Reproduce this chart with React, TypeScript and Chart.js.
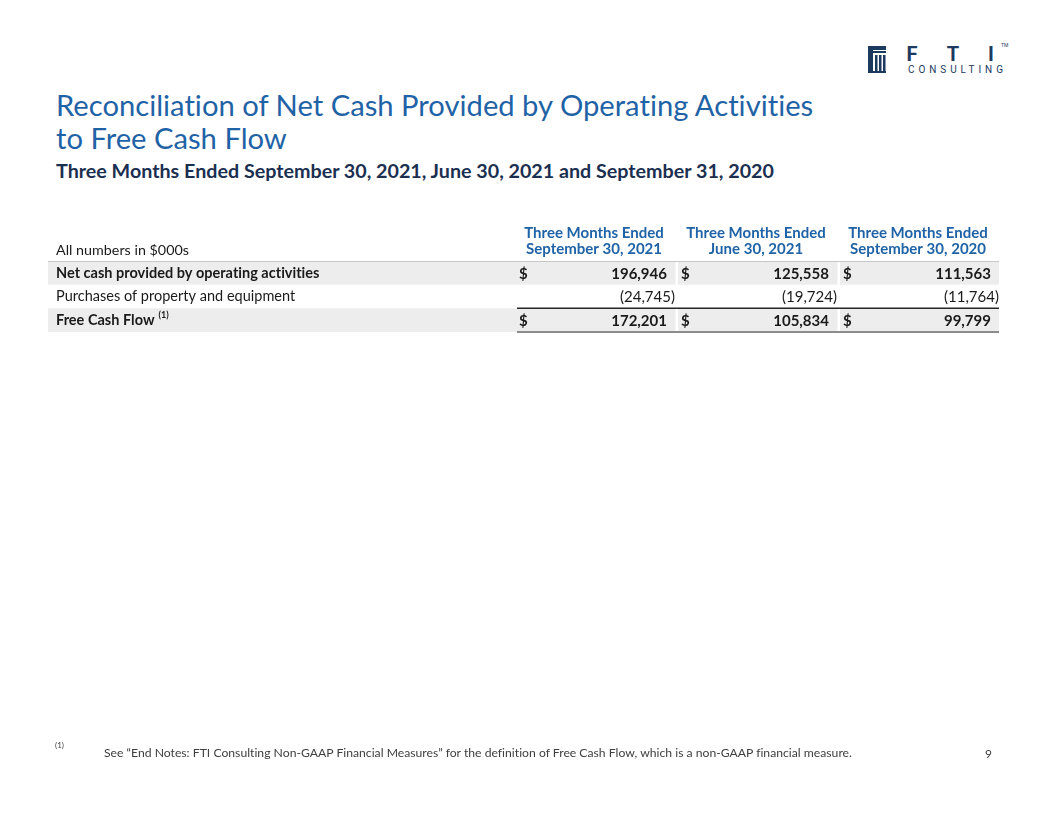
import React, { useEffect, useRef } from "react";
import { Chart, registerables } from "chart.js";

Chart.register(...registerables);

// ---- data ----
const rowLabels = [
  "Net cash provided by operating activities",
  "Purchases of property and equipment",
  "Free Cash Flow",
];
const columnHeaders = [
  ["Three Months Ended", "September 30, 2021"],
  ["Three Months Ended", "June 30, 2021"],
  ["Three Months Ended", "September 30, 2020"],
];
const sep2021Values = [196946, -24745, 172201];
const jun2021Values = [125558, -19724, 105834];
const sep2020Values = [111563, -11764, 99799];
const columnValues = [sep2021Values, jun2021Values, sep2020Values];
const boldRows = [true, false, true];
const dollarRows = [true, false, true];
const shadedRows = [true, false, true];
const footnoteMarks = ["", "", "(1)"];
const unitsLabel = "All numbers in $000s";

const titleLines = [
  "Reconciliation of Net Cash Provided by Operating Activities",
  "to Free Cash Flow",
];
const subtitle = "Three Months Ended September 30, 2021, June 30, 2021 and September 31, 2020";
const footnoteText =
  "See \u201cEnd Notes: FTI Consulting Non-GAAP Financial Measures\u201d for the definition of Free Cash Flow, which is a non-GAAP financial measure.";
const pageNumber = "9";

const FONT = "Lato, 'Open Sans', sans-serif";
const BLUE = "#1F63A6";
const NAVY = "#1B3A5E";

function fmt(v: number): string {
  const s = Math.abs(v).toLocaleString("en-US");
  return v < 0 ? `(${s})` : s;
}

function noLigatures(ctx: any) {
  try {
    ctx.textRendering = "optimizeSpeed";
    ctx.letterSpacing = "0.01px";
  } catch (e) {
    /* ignore */
  }
}

const tablePlugin = {
  id: "tableCells",
  beforeDraw(chart: any) {
    const { ctx, chartArea: a } = chart;
    const x = chart.scales.x;
    const y = chart.scales.y;
    const rowH = y.height / rowLabels.length;
    const colW = x.width / columnHeaders.length;
    const tableLeft = 48;
    ctx.save();
    rowLabels.forEach((_, i) => {
      if (!shadedRows[i]) return;
      const yc = y.getPixelForValue(i);
      ctx.fillStyle = "#EDEDED";
      ctx.fillRect(tableLeft, yc - rowH / 2, a.right - tableLeft, rowH);
      ctx.fillStyle = "#FFFFFF";
      for (let j = 1; j < columnHeaders.length; j++) {
        const bx = x.getPixelForValue(j) - colW / 2;
        ctx.fillRect(bx + 0.5, yc - rowH / 2, 2.5, rowH);
      }
    });
    // header rule
    ctx.strokeStyle = "#C8C8C8";
    ctx.lineWidth = 1;
    ctx.beginPath();
    ctx.moveTo(tableLeft, a.top + 0.5);
    ctx.lineTo(a.right, a.top + 0.5);
    ctx.stroke();
    // total rules
    const last = rowLabels.length - 1;
    const yl = y.getPixelForValue(last);
    ctx.strokeStyle = "#262626";
    ctx.lineWidth = 1.5;
    ctx.beginPath();
    ctx.moveTo(a.left + 4, yl - rowH / 2);
    ctx.lineTo(a.right, yl - rowH / 2);
    ctx.stroke();
    ctx.strokeStyle = "#8C8C8C";
    ctx.lineWidth = 2;
    ctx.beginPath();
    ctx.moveTo(a.left + 4, yl + rowH / 2);
    ctx.lineTo(a.right, yl + rowH / 2);
    ctx.stroke();
    ctx.restore();
    noLigatures(ctx);
  },
  afterDraw(chart: any) {
    const { ctx, chartArea: a } = chart;
    const x = chart.scales.x;
    const y = chart.scales.y;
    const colW = x.width / columnHeaders.length;
    ctx.save();
    noLigatures(ctx);
    ctx.fillStyle = "#1A1A1A";
    ctx.textBaseline = "middle";
    // units label
    ctx.font = `normal 14.3px ${FONT}`;
    ctx.textAlign = "left";
    ctx.fillText(unitsLabel, y.left, a.top - 11);
    // footnote marks on row labels
    rowLabels.forEach((lab, i) => {
      if (!footnoteMarks[i]) return;
      const yc = y.getPixelForValue(i);
      ctx.font = `${boldRows[i] ? "bold" : "normal"} 14.5px ${FONT}`;
      const w = ctx.measureText(lab).width;
      ctx.font = `${boldRows[i] ? "bold" : "normal"} 9px ${FONT}`;
      ctx.fillText(footnoteMarks[i], y.left + w + 4, yc - 5);
    });
    // values
    columnValues.forEach((vals, j) => {
      const cx = x.getPixelForValue(j);
      const colLeft = cx - colW / 2;
      const colRight = cx + colW / 2;
      vals.forEach((v, i) => {
        const yc = y.getPixelForValue(i) + 1;
        ctx.font = `${boldRows[i] ? "bold" : "normal"} 15px ${FONT}`;
        if (dollarRows[i]) {
          ctx.textAlign = "left";
          ctx.fillText("$", colLeft + 6, yc);
        }
        ctx.textAlign = "right";
        ctx.fillText(fmt(v), v < 0 ? colRight : colRight - 8, yc);
      });
    });
    ctx.restore();
  },
};

function TableChart() {
  const ref = useRef<HTMLCanvasElement | null>(null);
  useEffect(() => {
    if (!ref.current) return;
    const chart = new Chart(ref.current, {
      type: "bar",
      data: { labels: [], datasets: [] },
      options: {
        responsive: false,
        animation: false,
        events: [],
        layout: { padding: { left: 56, right: 57, top: 0, bottom: 484 } },
        plugins: { legend: { display: false }, tooltip: { enabled: false } },
        scales: {
          x: {
            type: "category",
            labels: columnHeaders as any,
            position: "top",
            offset: true,
            grid: { display: false, drawTicks: false },
            border: { display: false },
            ticks: {
              color: BLUE,
              font: { family: FONT, size: 15, weight: "bold", lineHeight: "16px" },
              padding: 4,
              maxRotation: 0,
              autoSkip: false,
            },
            afterFit: (s: any) => {
              s.height = 261;
            },
          },
          y: {
            type: "category",
            labels: rowLabels,
            position: "left",
            offset: true,
            grid: { display: false, drawTicks: false },
            border: { display: false },
            ticks: {
              color: "#1A1A1A",
              crossAlign: "far",
              autoSkip: false,
              padding: 0,
              font: (c: any) => ({
                family: FONT,
                size: 14.5,
                weight: boldRows[c.index] ? "bold" : "normal",
              }),
            },
            afterFit: (s: any) => {
              s.width = 457;
            },
          },
        },
      } as any,
      plugins: [tablePlugin],
    });
    return () => chart.destroy();
  }, []);
  return (
    <canvas
      ref={ref}
      width={1056}
      height={816}
      style={{ position: "absolute", left: 0, top: 0, width: 1056, height: 816 }}
    />
  );
}

function Logo() {
  return (
    <svg
      width={160}
      height={42}
      style={{ position: "absolute", left: 860, top: 38 }}
      viewBox="0 0 160 42"
    >
      <g fill={NAVY}>
        <rect x={8} y={8} width={18} height={4} />
        <rect x={8} y={13} width={18} height={2} />
        <rect x={8} y={8} width={5} height={27} />
        <rect x={15} y={17} width={2.5} height={16} />
        <rect x={19} y={17} width={2.5} height={16} />
        <rect x={23} y={17} width={2.5} height={16} />
        <rect x={13} y={33} width={13} height={2} />
      </g>
      <g fill={NAVY} fontFamily="Roboto, 'DejaVu Sans', sans-serif" fontWeight={700} fontSize={20}>
        <text x={52} y={23} textAnchor="middle">F</text>
        <text x={93} y={23} textAnchor="middle">T</text>
        <text x={131} y={23} textAnchor="middle">I</text>
      </g>
      <text
        x={48}
        y={35}
        fill={NAVY}
        fontFamily="Roboto, 'DejaVu Sans', sans-serif"
        fontSize={10}
        textLength={95}
        lengthAdjust="spacing"
      >
        CONSULTING
      </text>
      <text x={141} y={9} fill={NAVY} fontFamily="Roboto, sans-serif" fontSize={5}>
        TM
      </text>
    </svg>
  );
}

const noLig: React.CSSProperties = {
  fontVariantLigatures: "none",
  fontFeatureSettings: '"liga" 0, "clig" 0',
};

export default function App() {
  return (
    <div
      style={{
        position: "absolute",
        left: 0,
        top: 0,
        width: 1056,
        height: 816,
        background: "#FFFFFF",
        overflow: "hidden",
        fontFamily: FONT,
        ...noLig,
      }}
    >
      <Logo />
      <div
        style={{
          position: "absolute",
          left: 56,
          top: 88,
          fontSize: 29.2,
          lineHeight: "33px",
          color: BLUE,
          whiteSpace: "nowrap",
        }}
      >
        {titleLines.map((t, i) => (
          <div key={i}>{t}</div>
        ))}
      </div>
      <div
        style={{
          position: "absolute",
          left: 56,
          top: 160,
          fontSize: 19.7,
          lineHeight: "22px",
          fontWeight: 700,
          color: "#1B2F50",
          whiteSpace: "nowrap",
        }}
      >
        {subtitle}
      </div>
      <TableChart />
      <div
        style={{
          position: "absolute",
          left: 55,
          top: 740,
          fontSize: 8,
          lineHeight: "10px",
          color: "#404040",
        }}
      >
        (1)
      </div>
      <div
        style={{
          position: "absolute",
          left: 104,
          top: 745,
          fontSize: 12.2,
          lineHeight: "15px",
          color: "#404040",
          whiteSpace: "nowrap",
        }}
      >
        {footnoteText}
      </div>
      <div
        style={{
          position: "absolute",
          left: 985,
          top: 746,
          fontSize: 12,
          lineHeight: "15px",
          color: "#404040",
        }}
      >
        {pageNumber}
      </div>
    </div>
  );
}
